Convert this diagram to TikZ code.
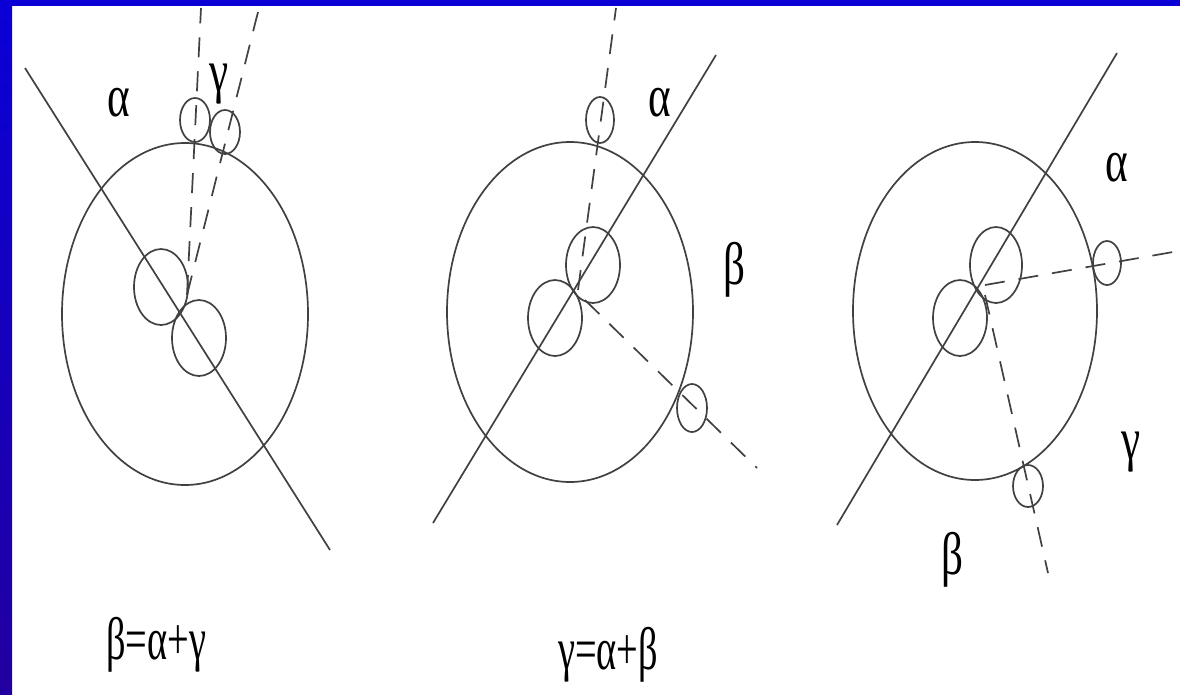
\documentclass[tikz,border=0pt]{standalone}
\usepackage{fontspec}
\setmainfont{Liberation Serif}
\definecolor{linec}{RGB}{65,65,65}
\definecolor{bluetop}{RGB}{10,0,214}
\definecolor{bluebot}{RGB}{34,0,160}
\tikzset{
  geo/.style={draw=linec, line width=1.7pt},
  dashline/.style={draw=linec, line width=1.7pt, dash pattern=on 20pt off 14pt},
  lbl/.style={inner sep=0pt, font=\fontsize{60}{60}\selectfont, text=black},
}
\newcommand{\sq}[1]{\scalebox{0.72}[1]{#1}}
\newcommand{\sqe}[1]{\scalebox{0.64}[1]{#1}}
\begin{document}
\begin{tikzpicture}[x=1pt,y=-1pt]
\useasboundingbox (0,0) rectangle (1180,694);
\fill[white] (0,0) rectangle (1180,694);
\fill[bluetop] (0,0) rectangle (1180,6);
\shade[top color=bluetop, bottom color=bluebot] (0,0) rectangle (12,694);

% ---------- figure 1 ----------
\coordinate (A-c) at (185,314);
\coordinate (A-s1) at (161,287);
\coordinate (A-s2) at (199,338);
\coordinate (A-t1) at (195,120);
\coordinate (A-t2) at (225,132);
\coordinate (A-l0) at (25,68);
\coordinate (A-l1) at (330,550);
\coordinate (A-j) at (187,295);
\coordinate (A-d1) at (201,8);
\coordinate (A-d2) at (258,12);
\draw[geo] (A-c) ellipse [x radius=123pt, y radius=171pt];
\draw[geo] (A-l0) -- (A-l1);
\draw[geo] (A-s1) ellipse [x radius=27pt, y radius=38pt];
\draw[geo] (A-s2) ellipse [x radius=27pt, y radius=38pt];
\draw[geo] (A-t1) ellipse [x radius=15pt, y radius=22pt];
\draw[geo] (A-t2) ellipse [x radius=15pt, y radius=22pt];
\draw[dashline] (A-j) -- (A-d1);
\draw[dashline] (A-j) -- (A-d2);
\node[lbl] (A-alpha) at (119,103) {\sq{α}};
\node[lbl] (A-gamma) at (219,84) {\sq{γ}};
\node[lbl] (A-eq) at (156,645) {\sqe{β=α+γ}};

% ---------- figure 2 ----------
\coordinate (B-c) at (570,312);
\coordinate (B-s1) at (593,265);
\coordinate (B-s2) at (555,318);
\coordinate (B-t) at (600,120);
\coordinate (B-r) at (692,408);
\coordinate (B-l0) at (716,55);
\coordinate (B-l1) at (433,523);
\coordinate (B-j1) at (578,290);
\coordinate (B-j2) at (585,300);
\coordinate (B-d1) at (616,8);
\coordinate (B-d2) at (757,468);
\draw[geo] (B-c) ellipse [x radius=123pt, y radius=170pt];
\draw[geo] (B-l0) -- (B-l1);
\draw[geo] (B-s1) ellipse [x radius=27pt, y radius=38pt];
\draw[geo] (B-s2) ellipse [x radius=27pt, y radius=38pt];
\draw[geo] (B-t) ellipse [x radius=14pt, y radius=23pt];
\draw[geo] (B-r) ellipse [x radius=15pt, y radius=24pt];
\draw[dashline] (B-j1) -- (B-d1);
\draw[dashline] (B-j2) -- (B-d2);
\node[lbl] (B-alpha) at (660,103) {\sq{α}};
\node[lbl] (B-beta) at (734,270) {\sq{β}};
\node[lbl] (B-eq) at (608,655) {\sqe{γ=α+β}};

% ---------- figure 3 ----------
\coordinate (C-c) at (975,311);
\coordinate (C-s1) at (996,265);
\coordinate (C-s2) at (960,318);
\coordinate (C-r) at (1107,263);
\coordinate (C-b) at (1028,486);
\coordinate (C-l0) at (1117,53);
\coordinate (C-l1) at (837,525);
\coordinate (C-j1) at (985,285);
\coordinate (C-j2) at (985,295);
\coordinate (C-d1) at (1173,252);
\coordinate (C-d2) at (1048,573);
\draw[geo] (C-c) ellipse [x radius=122pt, y radius=169pt];
\draw[geo] (C-l0) -- (C-l1);
\draw[geo] (C-s1) ellipse [x radius=26pt, y radius=38pt];
\draw[geo] (C-s2) ellipse [x radius=27pt, y radius=38pt];
\draw[geo] (C-r) ellipse [x radius=14pt, y radius=22pt];
\draw[geo] (C-b) ellipse [x radius=15pt, y radius=21pt];
\draw[dashline] (C-j1) -- (C-d1);
\draw[dashline] (C-j2) -- (C-d2);
\node[lbl] (C-alpha) at (1117,168) {\sq{α}};
\node[lbl] (C-gamma) at (1131,452) {\sq{γ}};
\node[lbl] (C-beta) at (952,560) {\sq{β}};
\end{tikzpicture}
\end{document}
